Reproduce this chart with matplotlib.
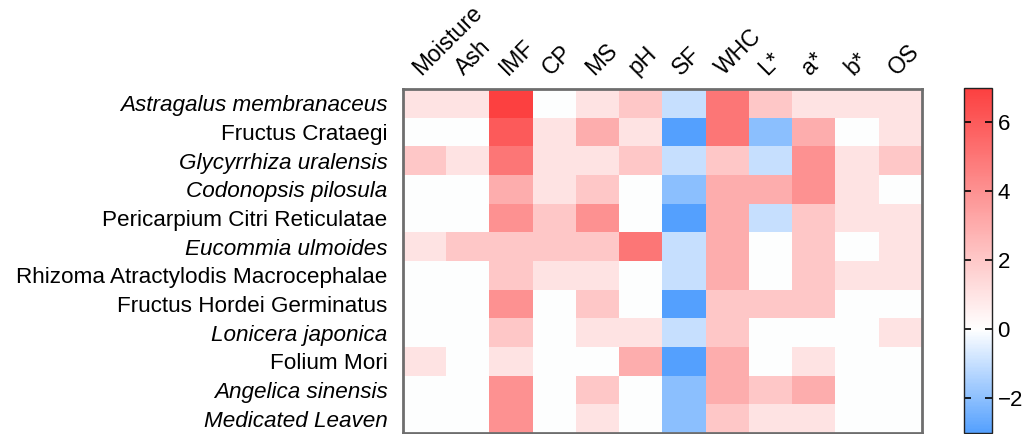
import numpy as np
import matplotlib
matplotlib.use("Agg")
import matplotlib.pyplot as plt
import matplotlib.transforms as mtransforms
from matplotlib.colors import LinearSegmentedColormap

# ---------- dados ----------
columns = ["Moisture", "Ash", "IMF", "CP", "MS", "pH", "SF", "WHC", "L*", "a*", "b*", "OS"]

herbs = ["Astragalus membranaceus", "Fructus Crataegi", "Glycyrrhiza uralensis",
         "Codonopsis pilosula", "Pericarpium Citri Reticulatae", "Eucommia ulmoides",
         "Rhizoma Atractylodis Macrocephalae", "Fructus Hordei Germinatus",
         "Lonicera japonica", "Folium Mori", "Angelica sinensis", "Medicated Leaven"]

italic = [True, False, True, True, False, True, False, False, True, False, True, True]

astragalus   = [1, 1, 7, 0, 1, 2, -1, 5, 2, 1, 1, 1]
crataegi     = [0, 0, 6, 1, 3, 1, -3, 5, -2, 3, 0, 1]
glycyrrhiza  = [2, 1, 5, 1, 1, 2, -1, 2, -1, 4, 1, 2]
codonopsis   = [0, 0, 3, 1, 2, 0, -2, 3, 3, 4, 1, 0]
pericarpium  = [0, 0, 4, 2, 4, 0, -3, 3, -1, 2, 1, 1]
eucommia     = [1, 2, 2, 2, 2, 5, -1, 3, 0, 2, 0, 1]
atractylodis = [0, 0, 2, 1, 1, 0, -1, 3, 0, 2, 1, 1]
hordei       = [0, 0, 4, 0, 2, 0, -3, 2, 2, 2, 0, 0]
lonicera     = [0, 0, 2, 0, 1, 1, -1, 2, 0, 0, 0, 1]
folium_mori  = [1, 0, 1, 0, 0, 3, -3, 3, 0, 1, 0, 0]
angelica     = [0, 0, 4, 0, 2, 0, -2, 3, 2, 3, 0, 0]
leaven       = [0, 0, 4, 0, 1, 0, -2, 2, 1, 1, 0, 0]

valores = np.array([astragalus, crataegi, glycyrrhiza, codonopsis, pericarpium, eucommia,
                    atractylodis, hordei, lonicera, folium_mori, angelica, leaven])

vmin, vmax = -3, 7

# ---------- figura ----------
plt.rcParams['font.family'] = ['Liberation Sans', 'DejaVu Sans']
plt.rcParams['text.color'] = '#1a1a1a'

cmap = LinearSegmentedColormap.from_list(
    "bwr_custom", [(0.0, "#54a0fe"), (-vmin / (vmax - vmin), "#ffffff"), (1.0, "#fc4040")])

fig = plt.figure(figsize=(10.25, 4.34), dpi=100)
ax = fig.add_axes([403 / 1025, 1 - 433 / 434, 519 / 1025, 344 / 434])
im = ax.imshow(valores, cmap=cmap, vmin=vmin, vmax=vmax, aspect='auto', interpolation='nearest')

ax.set_xticks(range(len(columns)))
ax.set_yticks(range(len(herbs)))
ax.set_xticklabels(columns, rotation=45, ha='left', va='bottom', rotation_mode='anchor', fontsize=16.5)
ax.set_yticklabels(herbs, fontsize=16.2)
for lbl, it in zip(ax.get_yticklabels(), italic):
    if it:
        lbl.set_style('italic')
# desloca os rótulos de coluna um pouco para a esquerda
desloc = mtransforms.ScaledTranslation(-8 / 100, 0, fig.dpi_scale_trans)
for lbl in ax.get_xticklabels():
    lbl.set_transform(lbl.get_transform() + desloc)
ax.xaxis.tick_top()
ax.tick_params(axis='both', length=0, pad=11)
ax.tick_params(axis='x', pad=7)
for s in ax.spines.values():
    s.set_color('#6e6e6e')
    s.set_linewidth(2)

cax = fig.add_axes([964 / 1025, 1 - 433 / 434, 28 / 1025, 345 / 434])
cb = fig.colorbar(im, cax=cax, ticks=[-2, 0, 2, 4, 6])
cb.outline.set_linewidth(1)
cb.outline.set_edgecolor('#222222')
cax.tick_params(direction='in', left=True, right=True, length=5, width=1.2, labelsize=16, pad=4)

fig.savefig("out.png", dpi=100)
